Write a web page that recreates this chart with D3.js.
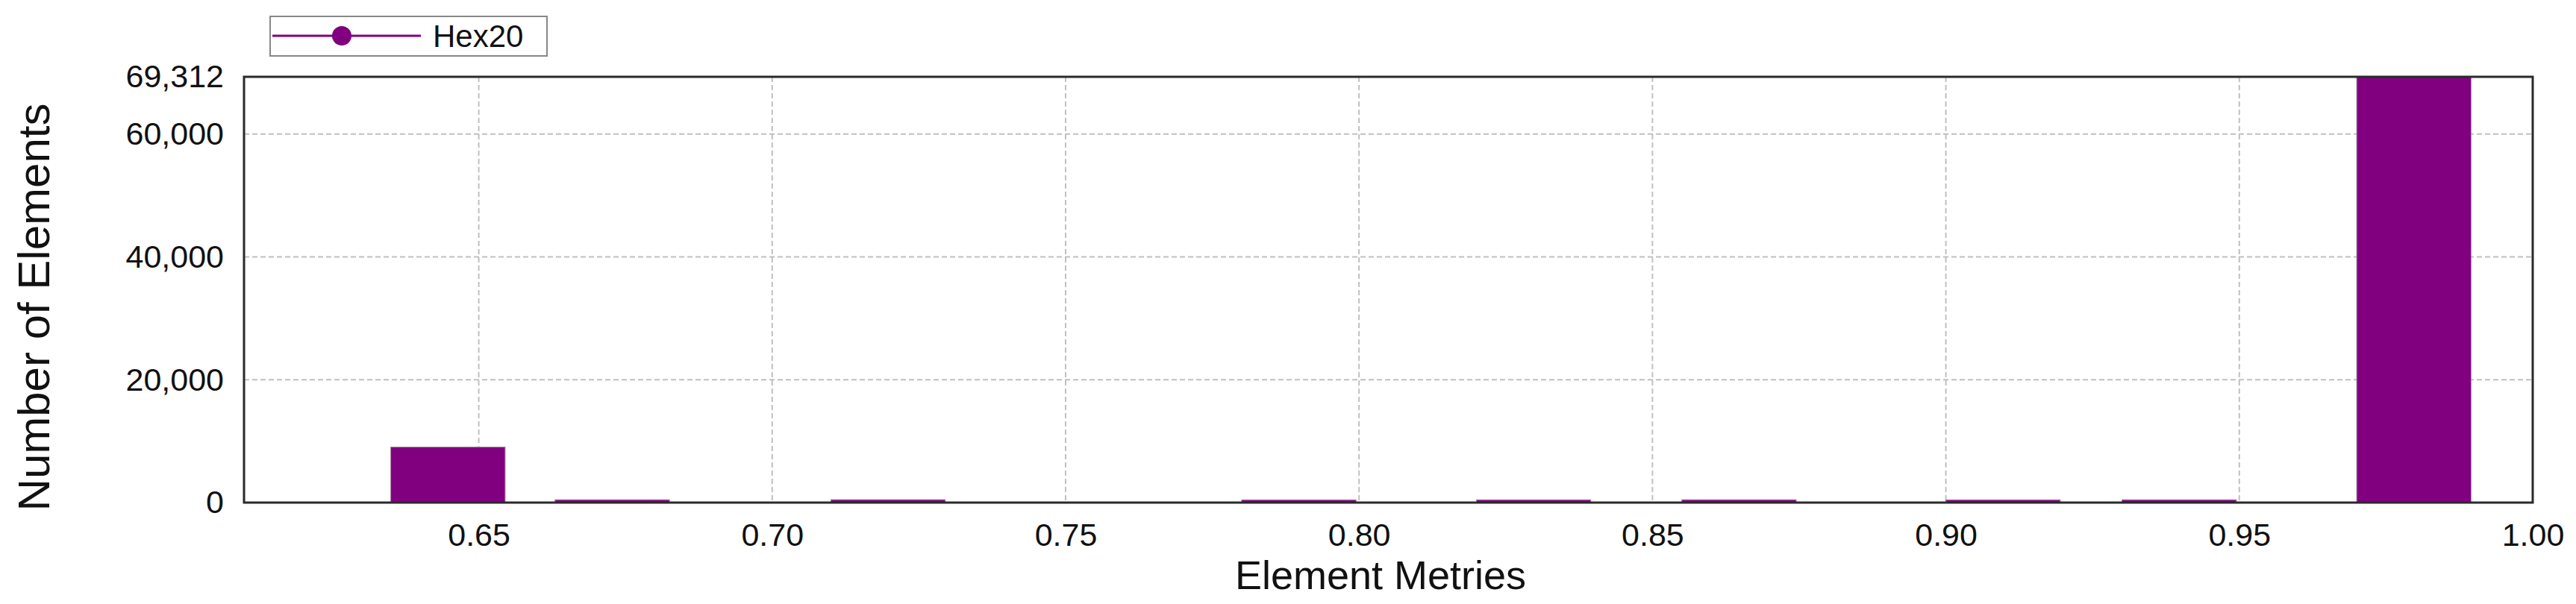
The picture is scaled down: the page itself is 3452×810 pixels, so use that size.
<!DOCTYPE html>
<html>
<head>
<meta charset="utf-8">
<script src="https://cdn.jsdelivr.net/npm/d3@7"></script>
<style>
  body { margin: 0; background: #fff; }
  svg { display: block; font-family: "Liberation Sans", Arial, sans-serif; }
</style>
</head>
<body>
<div id="vis"></div>
<script>
const FRAME_WIDTH = 3452;
const FRAME_HEIGHT = 810;
const MARGINS = {left: 327, right: 58, top: 103, bottom: 136};

// histogram bins (left / right edge of each bar) and counts
const binStart = [0.635, 0.663, 0.710, 0.780, 0.820, 0.855, 0.900, 0.930, 0.970];
const binEnd   = [0.6545, 0.6825, 0.7295, 0.7995, 0.8395, 0.8745, 0.9195, 0.9495, 0.9895];
const counts   = [9050, 470, 480, 450, 460, 470, 455, 465, 69312];

const xTicks = [0.65, 0.70, 0.75, 0.80, 0.85, 0.90, 0.95, 1.00];
const yTicks = [0, 20000, 40000, 60000, 69312];
const seriesName = "Hex20";

const VIS_WIDTH = FRAME_WIDTH - MARGINS.left - MARGINS.right;
const VIS_HEIGHT = FRAME_HEIGHT - MARGINS.top - MARGINS.bottom;

const svg = d3.select("#vis")
  .append("svg")
    .attr("width", FRAME_WIDTH)
    .attr("height", FRAME_HEIGHT);

const X_SCALE = d3.scaleLinear()
  .domain([0.61, 1.0])
  .range([MARGINS.left, MARGINS.left + VIS_WIDTH]);

const Y_SCALE = d3.scaleLinear()
  .domain([0, 69312])
  .range([MARGINS.top + VIS_HEIGHT, MARGINS.top]);

const data = binStart.map((s, i) => ({x0: s, x1: binEnd[i], n: counts[i]}));

// grid lines (behind bars)
const grid = svg.append("g")
  .attr("stroke", "#c0c0c0")
  .attr("stroke-width", 2)
  .attr("stroke-dasharray", "7,4");

grid.selectAll(".vgrid")
  .data(xTicks.filter(d => d < 1.0))
  .enter().append("line")
    .attr("x1", d => X_SCALE(d)).attr("x2", d => X_SCALE(d))
    .attr("y1", Y_SCALE(69312)).attr("y2", Y_SCALE(0));

grid.selectAll(".hgrid")
  .data(yTicks.filter(d => d > 0 && d < 69312))
  .enter().append("line")
    .attr("x1", X_SCALE(0.61)).attr("x2", X_SCALE(1.0))
    .attr("y1", d => Y_SCALE(d)).attr("y2", d => Y_SCALE(d));

// bars
svg.selectAll(".bar")
  .data(data)
  .enter().append("rect")
    .attr("class", "bar")
    .attr("x", d => X_SCALE(d.x0))
    .attr("width", d => X_SCALE(d.x1) - X_SCALE(d.x0))
    .attr("y", d => Y_SCALE(d.n))
    .attr("height", d => Y_SCALE(0) - Y_SCALE(d.n))
    .attr("fill", "#800080")
    .attr("stroke", "#a98aa9")
    .attr("stroke-width", 1);

// frame
svg.append("rect")
  .attr("x", X_SCALE(0.61))
  .attr("y", Y_SCALE(69312))
  .attr("width", X_SCALE(1.0) - X_SCALE(0.61))
  .attr("height", Y_SCALE(0) - Y_SCALE(69312))
  .attr("fill", "none")
  .attr("stroke", "#2a2a2a")
  .attr("stroke-width", 3);

// axes
const xAxis = svg.append("g")
  .attr("transform", "translate(0," + Y_SCALE(0) + ")")
  .call(d3.axisBottom(X_SCALE).tickValues(xTicks).tickSize(0).tickPadding(27)
        .tickFormat(d3.format(".2f")));
xAxis.select(".domain").remove();
xAxis.selectAll("text").attr("font-size", "43px").attr("fill", "#111")
  .attr("font-family", "Liberation Sans, Arial, sans-serif");

const yAxis = svg.append("g")
  .attr("transform", "translate(" + X_SCALE(0.61) + ",0)")
  .call(d3.axisLeft(Y_SCALE).tickValues(yTicks).tickSize(0).tickPadding(27)
        .tickFormat(d3.format(",")));
yAxis.select(".domain").remove();
yAxis.selectAll("text").attr("font-size", "43px").attr("fill", "#111")
  .attr("font-family", "Liberation Sans, Arial, sans-serif");

// axis titles
svg.append("text")
  .attr("x", 1850)
  .attr("y", 790)
  .attr("text-anchor", "middle")
  .attr("font-size", "54px")
  .attr("fill", "#111")
  .text("Element Metries");

svg.append("text")
  .attr("transform", "translate(66,412) rotate(-90)")
  .attr("text-anchor", "middle")
  .attr("font-size", "60px")
  .attr("fill", "#111")
  .text("Number of Elements");

// legend
const legend = svg.append("g");
legend.append("rect")
  .attr("x", 362).attr("y", 22).attr("width", 371).attr("height", 53)
  .attr("fill", "#fff").attr("stroke", "#888").attr("stroke-width", 2);
legend.append("line")
  .attr("x1", 365).attr("x2", 564).attr("y1", 48).attr("y2", 48)
  .attr("stroke", "#800080").attr("stroke-width", 3);
legend.append("circle")
  .attr("cx", 458).attr("cy", 48).attr("r", 13)
  .attr("fill", "#800080");
legend.append("text")
  .attr("x", 580).attr("y", 63)
  .attr("font-size", "42px")
  .attr("fill", "#111")
  .text(seriesName);
</script>
</body>
</html>
